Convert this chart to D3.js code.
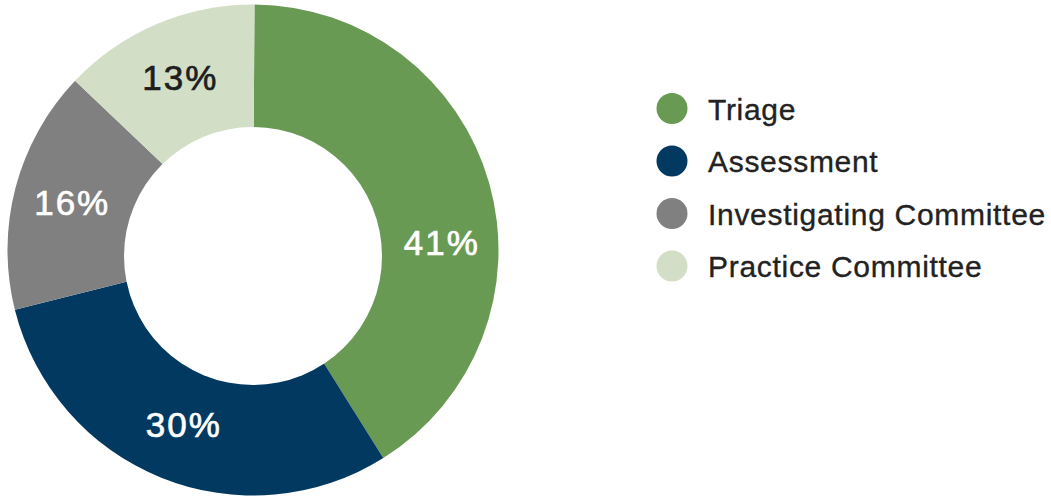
<!DOCTYPE html>
<html>
<head>
<meta charset="utf-8">
<script src="https://cdn.jsdelivr.net/npm/d3@7"></script>
<style>
  html, body { margin: 0; padding: 0; background: #fff; }
  svg { display: block; }
  text { font-family: "Liberation Sans", Arial, Helvetica, sans-serif; }
</style>
</head>
<body>
<svg id="chart" width="1051" height="497"></svg>
<script>
const categories = ["Triage", "Assessment", "Investigating Committee", "Practice Committee"];
const values = [41, 30, 16, 13];
const labels = ["41%", "30%", "16%", "13%"];
const colors = ["#689a53", "#023961", "#808080", "#d3dec7"];
const labelColors = ["#ffffff", "#ffffff", "#ffffff", "#1e1e1e"];

const W = 1051, H = 497;
const cx = 253, cy = 250;
const outerR = 245.5, innerR = 129;
const holeOffsetY = 6;
const labelR = 188;

const svg = d3.select("#chart");
const data = categories.map((c, i) => ({ name: c, value: values[i], label: labels[i], color: colors[i], labelColor: labelColors[i] }));

const pie = d3.pie().sort(null).value(d => d.value).startAngle(0.006).endAngle(2 * Math.PI + 0.006);
const arcs = pie(data);
const arc = d3.arc().innerRadius(0).outerRadius(outerR);

const g = svg.append("g").attr("transform", `translate(${cx},${cy})`);
g.selectAll("path.slice").data(arcs).join("path")
  .attr("class", "slice")
  .attr("d", arc)
  .attr("fill", d => d.data.color);

// donut hole
g.append("circle").attr("cx", 0).attr("cy", holeOffsetY).attr("r", innerR).attr("fill", "#fff");

// labels
const labelShift = [0.235, 0, 0, 0]; // angular nudges (radians)
g.selectAll("text.lbl").data(arcs).join("text")
  .attr("class", "lbl")
  .each(function(d, i) {
    const a = (d.startAngle + d.endAngle) / 2 + labelShift[i];
    const x = labelR * Math.sin(a);
    const y = -labelR * Math.cos(a);
    d3.select(this).attr("x", x + 1).attr("y", y + 12.5);
  })
  .attr("text-anchor", "middle")
  .attr("font-size", 35)
  .attr("letter-spacing", "2px")
  .attr("fill", d => d.data.labelColor)
  .attr("stroke", d => d.data.labelColor)
  .attr("stroke-width", 0.7)
  .text(d => d.data.label);

// legend
const legendY = d3.scalePoint().domain(categories).range([108.5, 266]);
const leg = svg.append("g");
const items = leg.selectAll("g.item").data(data).join("g")
  .attr("class", "item")
  .attr("transform", d => `translate(0,${legendY(d.name)})`);
items.append("circle").attr("cx", 672).attr("cy", 0).attr("r", 15.5).attr("fill", d => d.color);
items.append("text")
  .attr("x", 708)
  .attr("y", 11)
  .attr("font-size", 30)
  .attr("letter-spacing", "0.7px")
  .attr("fill", "#222")
  .attr("stroke", "#222")
  .attr("stroke-width", 0.35)
  .text(d => d.name);
</script>
</body>
</html>
